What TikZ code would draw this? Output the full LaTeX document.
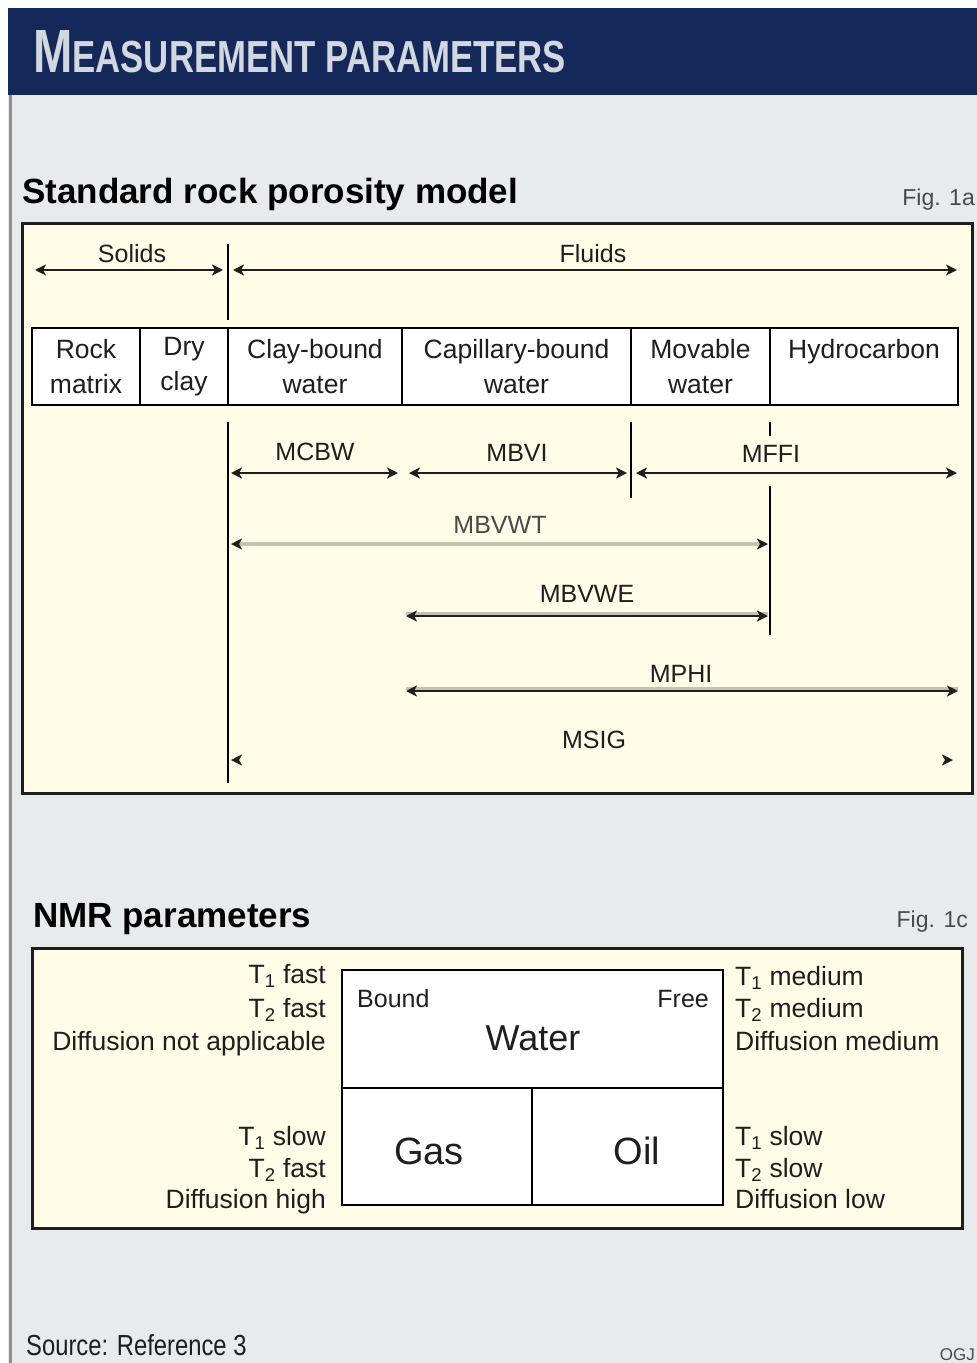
\documentclass[tikz,border=0pt]{standalone}
\usepackage{fontspec}
\setmainfont{Liberation Sans}
\usetikzlibrary{arrows.meta}
\definecolor{navy}{HTML}{14285A}
\definecolor{bgc}{HTML}{E7EBEC}
\definecolor{cream}{HTML}{FFFDE8}
\definecolor{ink}{HTML}{1E1E1E}
\definecolor{lightln}{HTML}{C2C2B2}
\definecolor{titlec}{HTML}{D2D7E0}
\definecolor{figc}{HTML}{4A4A4A}
\definecolor{framec}{HTML}{8A8F92}
\newcommand\fsz[1]{\fontsize{#1}{#1}\selectfont}
\begin{document}
\begin{tikzpicture}[x=1pt,y=-1pt,
  dim/.style={line width=2.8pt, draw=ink,
    arrows={Stealth[length=11pt,width=11pt,inset=3pt,color=ink]-Stealth[length=11pt,width=11pt,inset=3pt,color=ink]}},
  lightdim/.style={dim, draw=lightln, line width=3.2pt},
  hidim/.style={line width=2.8pt, draw=lightln},
  vline/.style={line width=2.8pt, draw=black},
  lbl/.style={anchor=base, text=ink, font=\fsz{25}, inner sep=1pt},
  cell/.style={draw=black, line width=2.8pt, fill=white, align=center, text=ink,
    font=\fontsize{26.5}{35}\selectfont, minimum height=77, inner sep=0pt},
  wbox/.style={draw=black, line width=2.8pt, fill=white},
  panel/.style={draw=ink, line width=3pt, fill=cream},
  nmrl/.style={anchor=base east, text=ink, font=\fsz{26.5}, inner sep=0pt},
  nmrr/.style={anchor=base west, text=ink, font=\fsz{26.5}, inner sep=0pt},
  head/.style={anchor=base west, text=black, font=\bfseries\fsz{35}, inner sep=0pt},
  figl/.style={anchor=base east, text=figc, font=\fsz{23}, inner sep=0pt}
]
\clip (0,0) rectangle (977,1363);
\useasboundingbox (0,0) rectangle (977,1363);
% background
\fill[white] (0,0) rectangle (977,1363);
\fill[bgc] (8,8) rectangle (977,1363);
\fill[navy] (8,8) rectangle (977,95);
\draw[framec, line width=3pt] (10,95) -- (10,1363);
\node[anchor=base west, text=titlec, inner sep=0pt] (title) at (33,72)
  {\resizebox{533pt}{42pt}{\bfseries\fsz{53}M\fsz{39}EASUREMENT PARAMETERS}};

% ---------- Fig 1a ----------
\node[head] (h1) at (22,203) {Standard rock porosity model};
\node[figl] (f1a) at (975,205) {Fig. 1a};
\node[panel, minimum width=950, minimum height=570, inner sep=0pt] (p1) at (497,508) {};

% Solids / Fluids
\coordinate (sL) at (35,270);  \coordinate (sR) at (223,270);
\coordinate (fL) at (233,270); \coordinate (fR) at (957,270);
\coordinate (v1a) at (228,244); \coordinate (v1b) at (228,320);
\draw[vline] (v1a) -- (v1b);
\draw[dim] (sL) -- (sR);
\draw[dim] (fL) -- (fR);
\node[lbl] (solids) at (132,262) {Solids};
\node[lbl] (fluids) at (593,262) {Fluids};

% row of cells
\node[cell, minimum width=108] (rock) at (86,366.5) {Rock\\matrix};
\node[cell, minimum width=88]  (dry) at (184,366.5) {Dry\\clay};
\node[cell, minimum width=174] (cbw) at (315,366.5) {Clay-bound\\water};
\node[cell, minimum width=229] (capw) at (516.5,366.5) {Capillary-bound\\water};
\node[cell, minimum width=139] (movw) at (700.5,366.5) {Movable\\water};
\node[cell, minimum width=188] (hyd) at (864,366.5) {Hydrocarbon\\\phantom{water}};

% vertical guide lines
\coordinate (g1a) at (228,422); \coordinate (g1b) at (228,783);
\coordinate (g2a) at (631,422); \coordinate (g2b) at (631,498);
\coordinate (g3a) at (770,422); \coordinate (g3b) at (770,436);
\coordinate (g3c) at (770,486); \coordinate (g3d) at (770,635);
\draw[vline] (g1a) -- (g1b);
\draw[vline] (g2a) -- (g2b);
\draw[vline] (g3a) -- (g3b);
\draw[vline] (g3c) -- (g3d);

% MCBW / MBVI / MFFI
\coordinate (mcbwL) at (231,473); \coordinate (mcbwR) at (398,473);
\coordinate (mbviL) at (409,473); \coordinate (mbviR) at (627,473);
\coordinate (mffiL) at (636,473); \coordinate (mffiR) at (957,473);
\draw[dim] (mcbwL) -- (mcbwR);
\draw[dim] (mbviL) -- (mbviR);
\draw[dim] (mffiL) -- (mffiR);
\node[lbl] (mcbw) at (315,460) {MCBW};
\node[lbl] (mbvi) at (517,461) {MBVI};
\node[lbl] (mffi) at (771,462) {MFFI};

% MBVWT
\coordinate (mbvwtL) at (231,544); \coordinate (mbvwtR) at (768,544);
\draw[lightdim] (mbvwtL) -- (mbvwtR);
\node[lbl, text=figc] (mbvwt) at (500,533) {MBVWT};

% MBVWE
\coordinate (mbvweL) at (406,616); \coordinate (mbvweR) at (768,616);
\draw[hidim] ([yshift=2.6pt]mbvweL) -- ([yshift=2.6pt]mbvweR);
\draw[dim] (mbvweL) -- (mbvweR);
\node[lbl] (mbvwe) at (587,602) {MBVWE};

% MPHI
\coordinate (mphiL) at (406,691); \coordinate (mphiR) at (958,691);
\draw[hidim] ([yshift=2.6pt]mphiL) -- ([yshift=2.6pt]mphiR);
\draw[dim] (mphiL) -- (mphiR);
\node[lbl] (mphi) at (681,682) {MPHI};

% MSIG
\coordinate (msigL) at (231,760); \coordinate (msigR) at (953,760);
\draw[dim, draw=cream] (msigL) -- (msigR);
\node[lbl] (msig) at (594,748) {MSIG};

% ---------- Fig 1c ----------
\node[head] (h2) at (33,927) {NMR parameters};
\node[figl] (f1c) at (968,927) {Fig. 1c};
\node[panel, minimum width=930, minimum height=280, inner sep=0pt] (p2) at (497,1088) {};

\node[wbox, minimum width=381, minimum height=118, inner sep=0pt] (water) at (532.5,1029) {};
\node[wbox, minimum width=190, minimum height=117, inner sep=0pt] (gas) at (437,1146.5) {};
\node[wbox, minimum width=191, minimum height=117, inner sep=0pt] (oil) at (627.5,1146.5) {};

\node[anchor=base west, text=ink, font=\fsz{25}, inner sep=0pt] (bound) at (357,1007) {Bound};
\node[anchor=base east, text=ink, font=\fsz{25}, inner sep=0pt] (free) at (709,1007) {Free};
\node[anchor=base, text=ink, font=\fsz{36}, inner sep=0pt] (wlab) at (533,1050) {Water};
\node[anchor=base, text=ink, font=\fsz{38}, inner sep=0pt] (glab) at (429,1164) {Gas};
\node[anchor=base, text=ink, font=\fsz{38}, inner sep=0pt] (olab) at (637,1164) {Oil};

\node[nmrl] (l1) at (326,983) {T\textsubscript{1} fast};
\node[nmrl] (l2) at (326,1017) {T\textsubscript{2} fast};
\node[nmrl] (l3) at (326,1050) {Diffusion not applicable};
\node[nmrl] (l4) at (326,1145) {T\textsubscript{1} slow};
\node[nmrl] (l5) at (326,1177) {T\textsubscript{2} fast};
\node[nmrl] (l6) at (326,1208) {Diffusion high};

\node[nmrr] (r1) at (735,985) {T\textsubscript{1} medium};
\node[nmrr] (r2) at (735,1017) {T\textsubscript{2} medium};
\node[nmrr] (r3) at (735,1050) {Diffusion medium};
\node[nmrr] (r4) at (735,1145) {T\textsubscript{1} slow};
\node[nmrr] (r5) at (735,1177) {T\textsubscript{2} slow};
\node[nmrr] (r6) at (735,1208) {Diffusion low};

% source
\node[anchor=base west, text=ink, inner sep=0pt] (src) at (26,1355)
  {\scalebox{0.82}[1]{\fsz{29}Source: Reference 3}};
\node[anchor=base east, text=figc, inner sep=0pt, font=\fsz{17}] (ogj) at (975,1360) {OGJ};
\end{tikzpicture}
\end{document}
